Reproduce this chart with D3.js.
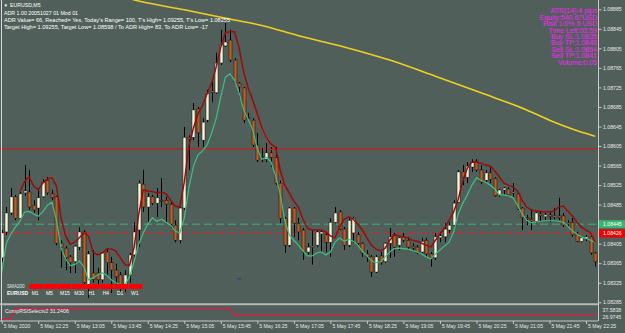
<!DOCTYPE html>
<html>
<head>
<meta charset="utf-8">
<script src="https://cdn.jsdelivr.net/npm/d3@7"></script>
<style>
  html, body { margin: 0; padding: 0; background: #505f5a; }
  svg { display: block; font-family: "Liberation Sans", Arial, sans-serif; }
</style>
</head>
<body>
<div id="chart"></div>
<script>
// EURUSD M5 candles, bar 0 = 5 May 11:45
var opens = [1.08376,1.08429,1.08468,1.08501,1.08457,1.08509,1.08511,1.08484,1.08478,1.08501,
  1.08535,1.08507,1.08501,1.08406,1.08396,1.08378,1.08368,1.08398,1.08429,1.08321,
  1.08345,1.08345,1.08331,1.08388,1.08366,1.08351,1.08341,1.08316,1.08341,1.08382,
  1.08433,1.08527,1.08480,1.08501,1.08488,1.08494,1.08494,1.08486,1.08443,1.08412,
  1.08478,1.08623,1.08623,1.08681,1.08617,1.08658,1.08718,1.08714,1.08775,1.08810,
  1.08822,1.08781,1.08734,1.08724,1.08664,1.08658,1.08607,1.08584,1.08578,1.08591,
  1.08582,1.08529,1.08457,1.08402,1.08478,1.08447,1.08433,1.08388,1.08398,1.08402,
  1.08425,1.08423,1.08408,1.08449,1.08470,1.08435,1.08402,1.08427,1.08423,1.08406,
  1.08384,1.08378,1.08347,1.08380,1.08368,1.08406,1.08423,1.08402,1.08419,1.08412,
  1.08400,1.08398,1.08388,1.08412,1.08384,1.08376,1.08417,1.08419,1.08433,1.08443,
  1.08490,1.08552,1.08541,1.08562,1.08574,1.08556,1.08535,1.08550,1.08539,1.08505,
  1.08515,1.08517,1.08511,1.08507,1.08478,1.08458,1.08455,1.08451,1.08466,1.08460,
  1.08464,1.08460,1.08462,1.08462,1.08445,1.08449,1.08425,1.08410,1.08415,1.08419,
  1.08386];
var highs = [1.08433,1.08480,1.08519,1.08505,1.08511,1.08566,1.08556,1.08494,1.08519,1.08537,
  1.08541,1.08515,1.08503,1.08412,1.08400,1.08382,1.08402,1.08439,1.08433,1.08390,
  1.08392,1.08356,1.08388,1.08396,1.08378,1.08364,1.08347,1.08351,1.08386,1.08449,
  1.08535,1.08556,1.08509,1.08505,1.08519,1.08539,1.08501,1.08490,1.08453,1.08480,
  1.08644,1.08627,1.08693,1.08685,1.08662,1.08720,1.08744,1.08796,1.08843,1.08857,
  1.08843,1.08785,1.08736,1.08726,1.08673,1.08662,1.08632,1.08601,1.08611,1.08603,
  1.08603,1.08535,1.08460,1.08480,1.08480,1.08458,1.08437,1.08406,1.08433,1.08433,
  1.08433,1.08427,1.08457,1.08480,1.08474,1.08439,1.08457,1.08460,1.08429,1.08408,
  1.08392,1.08382,1.08382,1.08388,1.08408,1.08437,1.08427,1.08419,1.08427,1.08419,
  1.08406,1.08402,1.08417,1.08417,1.08388,1.08427,1.08429,1.08447,1.08449,1.08494,
  1.08556,1.08566,1.08572,1.08578,1.08578,1.08566,1.08556,1.08562,1.08541,1.08517,
  1.08521,1.08521,1.08529,1.08509,1.08480,1.08464,1.08476,1.08470,1.08470,1.08468,
  1.08470,1.08478,1.08499,1.08468,1.08453,1.08458,1.08429,1.08421,1.08423,1.08421,
  1.08388];
var lows = [1.08368,1.08423,1.08464,1.08453,1.08455,1.08503,1.08474,1.08468,1.08453,1.08499,
  1.08505,1.08494,1.08402,1.08356,1.08351,1.08345,1.08345,1.08392,1.08321,1.08294,
  1.08325,1.08321,1.08325,1.08341,1.08304,1.08316,1.08306,1.08306,1.08325,1.08378,
  1.08398,1.08470,1.08449,1.08484,1.08460,1.08480,1.08447,1.08437,1.08408,1.08406,
  1.08474,1.08556,1.08617,1.08603,1.08603,1.08654,1.08695,1.08712,1.08771,1.08808,
  1.08777,1.08732,1.08705,1.08652,1.08658,1.08603,1.08572,1.08572,1.08572,1.08562,
  1.08525,1.08447,1.08386,1.08398,1.08419,1.08412,1.08372,1.08382,1.08362,1.08398,
  1.08388,1.08388,1.08378,1.08447,1.08433,1.08392,1.08398,1.08406,1.08402,1.08378,
  1.08368,1.08337,1.08345,1.08362,1.08366,1.08376,1.08378,1.08392,1.08408,1.08392,
  1.08392,1.08384,1.08386,1.08376,1.08358,1.08372,1.08408,1.08408,1.08427,1.08439,
  1.08488,1.08525,1.08529,1.08552,1.08552,1.08527,1.08531,1.08529,1.08501,1.08501,
  1.08505,1.08501,1.08501,1.08474,1.08433,1.08443,1.08433,1.08447,1.08449,1.08453,
  1.08449,1.08455,1.08453,1.08439,1.08439,1.08419,1.08408,1.08408,1.08410,1.08382,
  1.08358];
var closes = [1.08427,1.08468,1.08501,1.08457,1.08507,1.08513,1.08480,1.08474,1.08499,1.08531,
  1.08509,1.08499,1.08406,1.08398,1.08376,1.08366,1.08400,1.08429,1.08325,1.08384,
  1.08331,1.08331,1.08386,1.08366,1.08351,1.08337,1.08316,1.08341,1.08382,1.08429,
  1.08529,1.08480,1.08501,1.08488,1.08499,1.08493,1.08486,1.08445,1.08412,1.08478,
  1.08623,1.08619,1.08679,1.08632,1.08654,1.08712,1.08714,1.08775,1.08812,1.08818,
  1.08781,1.08736,1.08726,1.08658,1.08662,1.08607,1.08576,1.08582,1.08591,1.08582,
  1.08529,1.08457,1.08402,1.08478,1.08447,1.08429,1.08388,1.08398,1.08400,1.08429,
  1.08429,1.08408,1.08449,1.08468,1.08435,1.08402,1.08453,1.08457,1.08406,1.08386,
  1.08378,1.08347,1.08378,1.08366,1.08406,1.08419,1.08398,1.08417,1.08412,1.08398,
  1.08396,1.08386,1.08410,1.08384,1.08376,1.08419,1.08421,1.08435,1.08443,1.08488,
  1.08552,1.08541,1.08564,1.08572,1.08556,1.08531,1.08550,1.08537,1.08503,1.08515,
  1.08519,1.08505,1.08511,1.08476,1.08458,1.08457,1.08451,1.08468,1.08462,1.08464,
  1.08460,1.08462,1.08458,1.08443,1.08447,1.08423,1.08410,1.08417,1.08419,1.08386,
  1.08368];

// upper (dark red) and lower (green) envelope lines
var redBand = [null,null,null,null,1.08512,1.08532,1.08542,1.08523,1.08515,1.08529,
  1.08538,1.08540,1.08523,1.08458,1.08421,1.08404,1.08408,1.08417,1.08427,1.08421,
  1.08388,1.08382,1.08386,1.08394,1.08394,1.08390,1.08376,1.08362,1.08360,1.08398,
  1.08464,1.08515,1.08513,1.08512,1.08509,1.08511,1.08507,1.08494,1.08482,1.08480,
  1.08531,1.08605,1.08642,1.08671,1.08689,1.08712,1.08734,1.08767,1.08808,1.08837,
  1.08839,1.08839,1.08806,1.08757,1.08724,1.08699,1.08671,1.08642,1.08621,1.08609,
  1.08603,1.08556,1.08525,1.08509,1.08492,1.08480,1.08455,1.08437,1.08433,1.08433,
  1.08433,1.08429,1.08421,1.08417,1.08439,1.08455,1.08460,1.08455,1.08445,1.08433,
  1.08417,1.08402,1.08394,1.08390,1.08396,1.08412,1.08423,1.08421,1.08419,1.08417,
  1.08412,1.08410,1.08406,1.08402,1.08398,1.08412,1.08425,1.08437,1.08453,1.08470,
  1.08496,1.08533,1.08560,1.08572,1.08572,1.08570,1.08566,1.08564,1.08554,1.08542,
  1.08529,1.08525,1.08521,1.08513,1.08494,1.08480,1.08474,1.08472,1.08471,1.08470,
  1.08470,1.08472,1.08480,1.08482,1.08472,1.08462,1.08449,1.08439,1.08433,1.08427,
  1.08408];
var greenBand = [1.08345,1.08406,1.08425,1.08439,1.08451,1.08470,1.08471,1.08466,1.08461,1.08470,
  1.08484,1.08490,1.08453,1.08396,1.08374,1.08360,1.08362,1.08370,1.08358,1.08331,
  1.08335,1.08341,1.08345,1.08341,1.08331,1.08325,1.08321,1.08321,1.08337,1.08368,
  1.08404,1.08427,1.08445,1.08458,1.08451,1.08455,1.08449,1.08443,1.08431,1.08427,
  1.08458,1.08519,1.08564,1.08587,1.08595,1.08607,1.08632,1.08662,1.08706,1.08746,
  1.08753,1.08740,1.08714,1.08679,1.08660,1.08638,1.08599,1.08578,1.08582,1.08572,
  1.08544,1.08507,1.08453,1.08423,1.08412,1.08402,1.08390,1.08380,1.08380,1.08386,
  1.08388,1.08382,1.08388,1.08408,1.08417,1.08410,1.08414,1.08410,1.08402,1.08390,
  1.08380,1.08370,1.08366,1.08368,1.08378,1.08388,1.08395,1.08396,1.08395,1.08394,
  1.08391,1.08388,1.08384,1.08378,1.08374,1.08384,1.08392,1.08400,1.08408,1.08429,
  1.08466,1.08488,1.08505,1.08525,1.08540,1.08535,1.08531,1.08525,1.08517,1.08505,
  1.08505,1.08503,1.08499,1.08484,1.08466,1.08453,1.08448,1.08449,1.08451,1.08452,
  1.08452,1.08452,1.08451,1.08449,1.08441,1.08431,1.08425,1.08419,1.08416,1.08412,
  1.08408];

// SMA200 (yellow) read at some bars
var smaBars = [0, 20, 30, 40, 50, 57, 65, 75, 85, 95, 105, 115, 120, 125, 130];
var smaVals = [1.08986,1.08929,1.08902,1.08884,1.08865,1.08852,1.08831,1.08808,1.08781,1.08748,1.08714,1.08679,1.08658,1.08640,1.08625];

// dotted red line on the sell-off
var dotBars = [52, 54, 57, 59, 61, 63, 64];
var dotVals = [1.08732,1.08697,1.08638,1.08601,1.08540,1.08488,1.08470];

// CompRSISelectv2 sub window
var rsiBars = [0, 2, 3, 50, 51, 130];
var rsiVals = [26.9745, 26.9745, 37.5838, 37.5838, 31.2406, 31.2406];
var rsiLabels = [37.5838, 26.9745];

var greenLevel = 1.08445;
var redLevel = 1.08426;
var redSolidLevel = 1.08599;
var blueMark = {bars: [51.6, 52.4], price: 1.08333};

var priceTicks = [1.08885,1.08845,1.08805,1.08765,1.08725,1.08685,1.08645,1.08605,
  1.08565,1.08525,1.08485,1.08445,1.08405,1.08365,1.08325,1.08285];
var timeBars = [0,8,16,24,32,40,48,56,64,72,80,88,96,104,112,120,128];
var timeLabels = ["5 May 2020","5 May 12:25","5 May 13:05","5 May 13:45","5 May 14:25",
  "5 May 15:05","5 May 15:45","5 May 16:25","5 May 17:05","5 May 17:45","5 May 18:25",
  "5 May 19:05","5 May 19:45","5 May 20:25","5 May 21:05","5 May 21:45","5 May 22:25"];

var infoLines = ["ADR 1.00 20051027 01 Mod 01",
  "ADR Value= 66, Reached= Yes, Today's Range= 100, T's High= 1.09255, T's Low= 1.08255",
  "Target High= 1.09255, Target Low= 1.08598 / To ADR High= 83, To ADR Low= -17"];
var panelLines = ["ATR(14):4 pips","Equity:540.67USD","Risk 1.0% 5 USD","Time Left:03:59",
  "Buy SL:1.0835","Buy TP:1.0848","Sell SL:1.0854","Sell TP:1.0841","Volume:0.05"];
var tfLabels = ["M1","M5","M15","M30","H1","H4","D1","W1"];

window.onload = function() {
  drawChart();
};

function drawChart() {
  var width = 625, height = 333;
  var plotRight = 598, plotBottom = 303;
  var bg = "#505f5a";

  var svg = d3.select("#chart").append("svg")
      .attr("width", width)
      .attr("height", height);

  svg.append("rect").attr("width", width).attr("height", height).attr("fill", bg);

  var xScale = d3.scaleLinear().domain([0, 130]).range([1.7, 595.15]);
  var yScale = d3.scaleLinear().domain([1.08285, 1.08885]).range([302.3, 9.3]);
  var rsiScale = d3.scaleLinear().domain([26.9745, 37.5838]).range([319.3, 308.3]);

  svg.append("clipPath").attr("id", "plotclip")
    .append("rect").attr("x", 0).attr("y", 0).attr("width", plotRight).attr("height", plotBottom);

  var plot = svg.append("g").attr("clip-path", "url(#plotclip)");

  // yellow SMA200
  var smaLine = d3.line()
      .x(function(d, i) { return xScale(smaBars[i]); })
      .y(function(d) { return yScale(d); })
      .curve(d3.curveMonotoneX);
  plot.append("path")
      .attr("d", smaLine(smaVals))
      .attr("fill", "none")
      .attr("stroke", "#f0d01e")
      .attr("stroke-width", 1.6);

  // horizontal levels
  plot.append("line")
      .attr("x1", 0).attr("x2", plotRight)
      .attr("y1", yScale(redSolidLevel)).attr("y2", yScale(redSolidLevel))
      .attr("stroke", "#e01010").attr("stroke-width", 1);
  plot.append("line")
      .attr("x1", 0).attr("x2", plotRight)
      .attr("y1", yScale(greenLevel)).attr("y2", yScale(greenLevel))
      .attr("stroke", "#3cb371").attr("stroke-width", 1)
      .attr("stroke-dasharray", "8,4");
  plot.append("line")
      .attr("x1", 0).attr("x2", plotRight)
      .attr("y1", yScale(redLevel)).attr("y2", yScale(redLevel))
      .attr("stroke", "#e02020").attr("stroke-width", 1)
      .attr("stroke-dasharray", "8,4");

  // candles
  var idx = d3.range(opens.length);
  var candles = plot.append("g").attr("class", "candles");

  candles.selectAll("line.wick")
      .data(idx)
      .enter()
      .append("line")
      .attr("class", "wick")
      .attr("x1", function(i) { return Math.round(xScale(i)) + 0.5; })
      .attr("x2", function(i) { return Math.round(xScale(i)) + 0.5; })
      .attr("y1", function(i) { return yScale(highs[i]); })
      .attr("y2", function(i) { return yScale(lows[i]); })
      .attr("stroke", "#000")
      .attr("stroke-width", 1);

  candles.selectAll("rect.body")
      .data(idx)
      .enter()
      .append("rect")
      .attr("class", "body")
      .attr("x", function(i) { return Math.round(xScale(i)) - 1; })
      .attr("y", function(i) { return yScale(Math.max(opens[i], closes[i])); })
      .attr("width", 3)
      .attr("height", function(i) {
        return Math.max(1, Math.abs(yScale(opens[i]) - yScale(closes[i])));
      })
      .attr("fill", function(i) { return closes[i] >= opens[i] ? "#fbf6d8" : "#c25e1f"; })
      .attr("stroke", "#111")
      .attr("stroke-width", 0.5);

  // envelope lines
  var bandLine = d3.line()
      .defined(function(d) { return d !== null; })
      .x(function(d, i) { return xScale(i); })
      .y(function(d) { return yScale(d); });

  plot.append("path")
      .attr("d", bandLine(greenBand))
      .attr("fill", "none")
      .attr("stroke", "#3cc283")
      .attr("stroke-width", 1.2);

  plot.append("path")
      .attr("d", bandLine(redBand))
      .attr("fill", "none")
      .attr("stroke", "#9c0b0b")
      .attr("stroke-width", 1.5);

  var dotLine = d3.line()
      .x(function(d, i) { return xScale(dotBars[i]); })
      .y(function(d) { return yScale(d); });
  plot.append("path")
      .attr("d", dotLine(dotVals))
      .attr("fill", "none")
      .attr("stroke", "#ff2a2a")
      .attr("stroke-width", 1)
      .attr("stroke-dasharray", "1,1.5");

  plot.append("line")
      .attr("x1", xScale(blueMark.bars[0])).attr("x2", xScale(blueMark.bars[1]))
      .attr("y1", yScale(blueMark.price)).attr("y2", yScale(blueMark.price))
      .attr("stroke", "#2a2ad0").attr("stroke-width", 1);

  // frame lines
  svg.append("line")
      .attr("x1", 1.5).attr("x2", 1.5).attr("y1", 0).attr("y2", 321)
      .attr("stroke", "#d8d8d8").attr("stroke-width", 1);
  svg.append("line")
      .attr("x1", 0).attr("x2", plotRight).attr("y1", 304.3).attr("y2", 304.3)
      .attr("stroke", "#b8b8b8").attr("stroke-width", 2);
  svg.append("line")
      .attr("x1", 0).attr("x2", plotRight).attr("y1", 321).attr("y2", 321)
      .attr("stroke", "#c8c8c8").attr("stroke-width", 1);
  svg.append("line")
      .attr("x1", plotRight + 0.5).attr("x2", plotRight + 0.5).attr("y1", 0).attr("y2", 321)
      .attr("stroke", "#c8c8c8").attr("stroke-width", 1);

  // right price axis
  var yAxis = svg.append("g")
      .attr("class", "y-axis")
      .attr("transform", "translate(" + (plotRight + 0.5) + ",0)")
      .call(d3.axisRight(yScale)
        .tickValues(priceTicks)
        .tickSize(3)
        .tickSizeOuter(0)
        .tickFormat(d3.format(".5f")));
  yAxis.select(".domain").remove();
  yAxis.selectAll("line").attr("stroke", "#c8c8c8");
  yAxis.selectAll("text")
      .attr("x", 4.5)
      .attr("fill", "#e8e8e8")
      .style("font-size", "5.2px")
      .style("font-family", "'Liberation Sans', Arial, sans-serif");

  // level boxes on the price axis
  var boxes = [{v: greenLevel, fill: "#3cb371"}, {v: redLevel, fill: "#f00000"}];
  boxes.forEach(function(b) {
    svg.append("rect")
        .attr("x", plotRight + 1)
        .attr("y", yScale(b.v) - 4)
        .attr("width", width - plotRight - 1)
        .attr("height", 8)
        .attr("fill", b.fill);
    svg.append("text")
        .attr("x", plotRight + 5)
        .attr("y", yScale(b.v) + 1.9)
        .attr("fill", "#ffffff")
        .style("font-size", "5.2px")
        .text(d3.format(".5f")(b.v));
  });

  // time axis
  var xAxis = svg.append("g")
      .attr("class", "x-axis")
      .attr("transform", "translate(0,321)")
      .call(d3.axisBottom(xScale)
        .tickValues(timeBars)
        .tickSize(3)
        .tickSizeOuter(0)
        .tickFormat(function(d, i) { return timeLabels[i]; }));
  xAxis.select(".domain").remove();
  xAxis.selectAll("line").attr("stroke", "#c8c8c8");
  xAxis.selectAll("text")
      .attr("text-anchor", "start")
      .attr("x", 1.5)
      .attr("y", 3.4)
      .attr("fill", "#e8e8e8")
      .style("font-size", "5.1px")
      .style("font-family", "'Liberation Sans', Arial, sans-serif");

  // indicator sub window
  var rsiLine = d3.line()
      .x(function(d, i) { return xScale(rsiBars[i]); })
      .y(function(d) { return rsiScale(d); });
  svg.append("path")
      .attr("d", rsiLine(rsiVals))
      .attr("fill", "none")
      .attr("stroke", "#e8173f")
      .attr("stroke-width", 1.3);
  svg.append("text")
      .attr("x", 5).attr("y", 312.8)
      .attr("fill", "#f0f0f0")
      .style("font-size", "5.3px")
      .text("CompRSISelectv2 " + rsiVals[rsiVals.length - 1].toFixed(4));
  svg.selectAll("text.rsilab")
      .data(rsiLabels)
      .enter()
      .append("text")
      .attr("class", "rsilab")
      .attr("x", plotRight + 4.5)
      .attr("y", function(d, i) { return i === 0 ? 311.5 : 318.8; })
      .attr("fill", "#e8e8e8")
      .style("font-size", "5.2px")
      .text(function(d) { return d.toFixed(4); });

  // top left info block
  svg.append("text")
      .attr("x", 3.5).attr("y", 7)
      .attr("fill", "#ffffff")
      .style("font-size", "4.5px")
      .text("\u25BC");
  svg.append("text")
      .attr("x", 10).attr("y", 7.2)
      .attr("fill", "#ffffff")
      .style("font-size", "5.2px")
      .text("EURUSD,M5");

  var infoWidths = [74, 226, 204];
  svg.selectAll("text.info")
      .data(infoLines)
      .enter()
      .append("text")
      .attr("class", "info")
      .attr("x", 4)
      .attr("y", function(d, i) { return 15 + i * 6.8; })
      .attr("fill", "#ffffff")
      .attr("textLength", function(d, i) { return infoWidths[i]; })
      .attr("lengthAdjust", "spacingAndGlyphs")
      .style("font-size", "5.2px")
      .text(function(d) { return d; });

  // top right money management panel
  svg.selectAll("text.panel")
      .data(panelLines)
      .enter()
      .append("text")
      .attr("class", "panel")
      .attr("x", 597)
      .attr("y", function(d, i) { return 13.4 + i * 6.4; })
      .attr("text-anchor", "end")
      .attr("fill", "#ff1cff")
      .style("font-size", "7px")
      .text(function(d) { return d; });

  // bottom left trend panel
  svg.append("text")
      .attr("x", 7).attr("y", 288)
      .attr("fill", "#e8e8e8")
      .style("font-size", "4.6px")
      .text("SMA200");
  svg.append("text")
      .attr("x", 7).attr("y", 295.3)
      .attr("fill", "#ffffff")
      .style("font-size", "5px")
      .style("font-weight", "bold")
      .text("EURUSD");
  var tfStep = 14.2;
  svg.selectAll("rect.tf")
      .data(tfLabels)
      .enter()
      .append("rect")
      .attr("class", "tf")
      .attr("x", function(d, i) { return 29.3 + i * tfStep; })
      .attr("y", 284)
      .attr("width", tfStep - 0.6)
      .attr("height", 5)
      .attr("fill", "#ff0000");
  svg.selectAll("text.tf")
      .data(tfLabels)
      .enter()
      .append("text")
      .attr("class", "tf")
      .attr("x", function(d, i) { return 31.7 + i * tfStep; })
      .attr("y", 295.3)
      .attr("fill", "#ffffff")
      .style("font-size", "5px")
      .text(function(d) { return d; });
}
</script>
</body>
</html>
